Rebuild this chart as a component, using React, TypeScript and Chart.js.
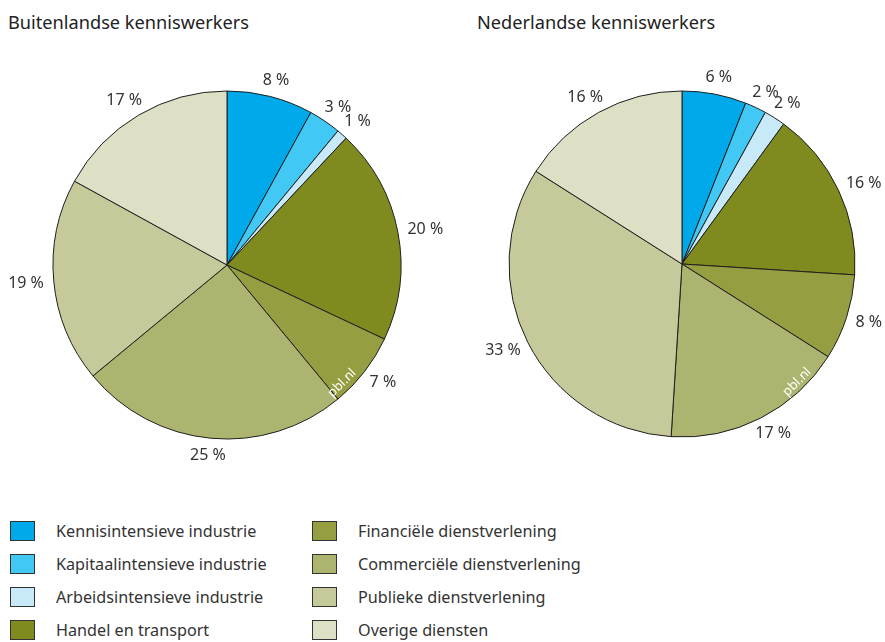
import React, { useEffect, useRef } from "react";
import { Chart, registerables } from "chart.js";

Chart.register(...registerables);

const categories = [
  "Kennisintensieve industrie",
  "Kapitaalintensieve industrie",
  "Arbeidsintensieve industrie",
  "Handel en transport",
  "Financiële dienstverlening",
  "Commerciële dienstverlening",
  "Publieke dienstverlening",
  "Overige diensten",
];

const buitenlandseValues = [8, 3, 1, 20, 7, 25, 19, 17];
const nederlandseValues = [6, 2, 2, 16, 8, 17, 33, 16];

const colors = [
  "#00a9e9",
  "#41c8f5",
  "#c8eaf8",
  "#7f8b1e",
  "#969e42",
  "#adb46f",
  "#c6c99a",
  "#dde0c5",
];

const titles = ["Buitenlandse kenniswerkers", "Nederlandse kenniswerkers"];

const FONT = '"Noto Sans", "Open Sans", sans-serif';

const labelPlugin = {
  id: "pctLabels",
  afterDatasetsDraw(chart: any) {
    const ctx = chart.ctx;
    const meta = chart.getDatasetMeta(0);
    const ds = chart.data.datasets[0];
    ctx.save();
    ctx.font = `16px ${FONT}`;
    ctx.fillStyle = "#333333";
    ctx.textAlign = "center";
    ctx.textBaseline = "middle";
    let cx = 0;
    let cy = 0;
    meta.data.forEach((arc: any, i: number) => {
      const p = arc.getProps(["startAngle", "endAngle", "outerRadius", "x", "y"], true);
      cx = p.x;
      cy = p.y;
      const mid = (p.startAngle + p.endAngle) / 2;
      const c = Math.cos(mid);
      const s = Math.sin(mid);
      const text = `${ds.data[i]} %`;
      const w = ctx.measureText(text).width;
      const h = 14;
      const px = p.x + c * (p.outerRadius + 10) + (c * w) / 2;
      const py = p.y + s * (p.outerRadius + 10) + (s * h) / 2;
      ctx.fillText(text, px, py);
    });
    ctx.translate(cx + 115, cy + 118);
    ctx.rotate(-Math.PI / 4);
    ctx.fillStyle = "#ffffff";
    ctx.font = `13px ${FONT}`;
    ctx.fillText("pbl.nl", 0, 0);
    ctx.restore();
  },
};

function PieCanvas(props: { values: number[]; width: number; height: number; radius: number; style: any }) {
  const ref = useRef<HTMLCanvasElement | null>(null);
  useEffect(() => {
    if (!ref.current) return;
    const chart = new Chart(ref.current, {
      type: "pie",
      data: {
        labels: categories,
        datasets: [
          {
            data: props.values,
            backgroundColor: colors,
            borderColor: "#1e1e1e",
            borderWidth: 1,
          },
        ],
      },
      options: {
        responsive: false,
        animation: false,
        radius: props.radius,
        layout: { padding: 0 },
        plugins: {
          legend: { display: false },
          tooltip: { enabled: false },
        },
      } as any,
      plugins: [labelPlugin],
    });
    return () => chart.destroy();
  }, []);
  return (
    <canvas
      ref={ref}
      width={props.width}
      height={props.height}
      style={{ position: "absolute", width: props.width, height: props.height, ...props.style }}
    />
  );
}

export default function App() {
  const legendCols = [categories.slice(0, 4), categories.slice(4)];
  return (
    <div
      style={{
        position: "absolute",
        left: 0,
        top: 0,
        width: 885,
        height: 642,
        background: "#ffffff",
        fontFamily: FONT,
        color: "#222222",
        overflow: "hidden",
      }}
    >
      <div style={{ position: "absolute", left: 8, top: 9, fontSize: 18.2, lineHeight: "26px" }}>{titles[0]}</div>
      <div style={{ position: "absolute", left: 477, top: 9, fontSize: 18.2, lineHeight: "26px" }}>{titles[1]}</div>
      <PieCanvas values={buitenlandseValues} width={454} height={450} radius={174} style={{ left: 0, top: 40 }} />
      <PieCanvas values={nederlandseValues} width={406} height={450} radius={173} style={{ left: 479, top: 39 }} />
      {legendCols.map((col, ci) =>
        col.map((name, ri) => {
          const idx = ci * 4 + ri;
          return (
            <div
              key={name}
              style={{
                position: "absolute",
                left: ci === 0 ? 10 : 312,
                top: 520 + ri * 33,
                height: 22,
                display: "flex",
                alignItems: "center",
              }}
            >
              <div
                style={{
                  width: 25,
                  height: 20,
                  background: colors[idx],
                  border: "1px solid #333",
                  boxSizing: "border-box",
                }}
              />
              <span style={{ marginLeft: 21, fontSize: 16.2, color: "#333333", whiteSpace: "nowrap" }}>{name}</span>
            </div>
          );
        })
      )}
    </div>
  );
}
